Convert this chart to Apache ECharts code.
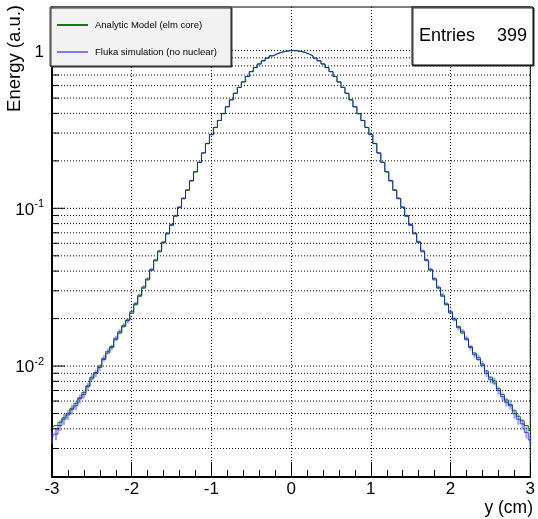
<!DOCTYPE html>
<html>
<head>
<meta charset="utf-8">
<script src="https://cdn.jsdelivr.net/npm/echarts@6/dist/echarts.min.js"></script>
<style>
html,body{margin:0;padding:0;background:#fff;}
#main{width:538px;height:519px;}
</style>
</head>
<body>
<div id="main"></div>
<script>
// bin centres along y (cm)
var yPos = [-3.00,-2.95,-2.90,-2.85,-2.80,-2.75,-2.70,-2.65,-2.60,-2.55,-2.50,-2.45,-2.40,-2.35,-2.30,-2.25,-2.20,-2.15,-2.10,-2.05,
            -2.00,-1.95,-1.90,-1.85,-1.80,-1.75,-1.70,-1.65,-1.60,-1.55,-1.50,-1.45,-1.40,-1.35,-1.30,-1.25,-1.20,-1.15,-1.10,-1.05,
            -1.00,-0.95,-0.90,-0.85,-0.80,-0.75,-0.70,-0.65,-0.60,-0.55,-0.50,-0.45,-0.40,-0.35,-0.30,-0.25,-0.20,-0.15,-0.10,-0.05,
            0.00,
            0.05,0.10,0.15,0.20,0.25,0.30,0.35,0.40,0.45,0.50,0.55,0.60,0.65,0.70,0.75,0.80,0.85,0.90,0.95,1.00,
            1.05,1.10,1.15,1.20,1.25,1.30,1.35,1.40,1.45,1.50,1.55,1.60,1.65,1.70,1.75,1.80,1.85,1.90,1.95,2.00,
            2.05,2.10,2.15,2.20,2.25,2.30,2.35,2.40,2.45,2.50,2.55,2.60,2.65,2.70,2.75,2.80,2.85,2.90,2.95,3.00];

// analytic model (elm core)
var analytic = [0.0040,0.0042,0.0044,0.0047,0.0050,0.0054,0.0058,0.0063,0.0068,0.0075,0.0083,0.0091,0.0100,0.0110,0.0121,0.0133,0.0147,0.0162,0.0178,0.0196,
                0.0216,0.0245,0.0277,0.0312,0.0352,0.0405,0.0465,0.0530,0.0605,0.0688,0.078,0.089,0.101,0.115,0.130,0.149,0.170,0.195,0.224,0.257,
                0.293,0.325,0.360,0.398,0.440,0.487,0.536,0.584,0.632,0.685,0.735,0.780,0.822,0.861,0.896,0.926,0.952,0.973,0.988,0.997,
                1.0,
                0.997,0.988,0.973,0.952,0.926,0.896,0.861,0.822,0.780,0.735,0.685,0.632,0.584,0.536,0.487,0.440,0.398,0.360,0.325,0.293,
                0.257,0.224,0.195,0.170,0.149,0.130,0.115,0.101,0.089,0.078,0.0688,0.0605,0.0530,0.0465,0.0405,0.0352,0.0312,0.0277,0.0245,0.0217,
                0.0196,0.0178,0.0162,0.0147,0.0133,0.0121,0.0110,0.0101,0.0093,0.0085,0.0078,0.0072,0.0066,0.0061,0.0056,0.0052,0.0048,0.0045,0.0042,0.0039];

// fluka simulation (no nuclear)
var fluka = [0.0035,0.0037,0.0042,0.0046,0.0049,0.0053,0.0056,0.0062,0.0066,0.0074,0.0085,0.0090,0.0098,0.0112,0.0124,0.0131,0.0150,0.0165,0.0181,0.0194,
             0.0221,0.0249,0.0281,0.0317,0.0357,0.0410,0.0471,0.0537,0.0612,0.0695,0.0788,0.0898,0.102,0.116,0.131,0.150,0.171,0.196,0.225,0.258,
             0.294,0.326,0.361,0.399,0.441,0.488,0.537,0.585,0.633,0.686,0.736,0.781,0.823,0.862,0.897,0.927,0.953,0.974,0.989,0.998,
             1.0,
             0.998,0.989,0.974,0.953,0.927,0.897,0.862,0.823,0.781,0.736,0.686,0.633,0.585,0.537,0.488,0.441,0.399,0.361,0.326,0.294,
             0.258,0.225,0.196,0.171,0.150,0.131,0.116,0.102,0.0900,0.0790,0.0697,0.0614,0.0538,0.0472,0.0411,0.0358,0.0316,0.0282,0.0248,0.0221,
             0.0199,0.0175,0.0166,0.0150,0.0131,0.0118,0.0113,0.0103,0.0090,0.0082,0.0080,0.0070,0.0064,0.0059,0.0057,0.0050,0.0046,0.0043,0.0038,0.0034];

// relative error of fluka bins, by |y| step of 0.1
var flukaRelErr = [0.005,0.005,0.005,0.005,0.006,0.006,0.007,0.007,0.008,0.009,0.010,0.011,0.012,0.013,0.015,0.017,
                   0.019,0.021,0.024,0.027,0.030,0.034,0.038,0.042,0.047,0.052,0.058,0.064,0.071,0.078,0.085];

var yGridValues = [0.003,0.004,0.005,0.006,0.007,0.008,0.009,
                   0.01,0.02,0.03,0.04,0.05,0.06,0.07,0.08,0.09,
                   0.1,0.2,0.3,0.4,0.5,0.6,0.7,0.8,0.9,1];
var yMin = 0.00198, yMax = 1.89;
var entries = 399;

var FONT = '"Liberation Sans", Arial, Helvetica, sans-serif';
var GREEN = '#0a7d0a';
var LIGHTBLUE = '#7b7bee';

var myChart = echarts.init(document.getElementById('main'));

function isDecade(v) {
    var e = Math.log10(v);
    return Math.abs(e - Math.round(e)) < 1e-6;
}

var analyticData = yPos.map(function (x, i) { return [x, analytic[i]]; });
var flukaData = yPos.map(function (x, i) { return [x, fluka[i]]; });
var errData = yPos.map(function (x, i) {
    var k = Math.round(Math.abs(x) * 10);
    return [x, fluka[i], fluka[i] * flukaRelErr[k]];
});

var option = {
    animation: false,
    backgroundColor: '#fff',
    grid: {left: 52, right: 5, top: 7, bottom: 42, show: true, borderColor: '#000', borderWidth: 1},
    legend: {
        left: 50, top: 7, orient: 'vertical', z: 10,
        icon: 'rect', itemWidth: 31, itemHeight: 2, itemGap: 17,
        padding: [13, 14, 9, 7],
        backgroundColor: '#f2f2f2', borderColor: '#333', borderWidth: 1,
        shadowColor: '#333', shadowOffsetX: 1, shadowOffsetY: 1, shadowBlur: 0,
        textStyle: {fontSize: 9.5, color: '#000', fontFamily: FONT, padding: [0, 0, 0, 2]},
        data: [
            {name: 'Analytic Model (elm core)', itemStyle: {color: GREEN}, lineStyle: {color: GREEN}},
            {name: 'Fluka simulation (no nuclear)', itemStyle: {color: LIGHTBLUE}, lineStyle: {color: LIGHTBLUE}}
        ]
    },
    xAxis: {
        type: 'value', min: -3, max: 3, interval: 1,
        axisLine: {show: true, onZero: false, lineStyle: {color: '#000', width: 2}},
        axisTick: {show: true, inside: true, length: 15, lineStyle: {color: '#000', width: 1}},
        minorTick: {show: true, splitNumber: 5, length: 7, lineStyle: {color: '#000', width: 1}},
        splitLine: {show: true, lineStyle: {color: '#000', width: 1, type: [1, 2]}},
        axisLabel: {color: '#000', fontSize: 17, fontFamily: FONT, margin: 4}
    },
    yAxis: {
        type: 'log', logBase: 10, min: yMin, max: yMax,
        axisLine: {show: true, onZero: false, lineStyle: {color: '#000', width: 2}},
        axisTick: {show: false},
        splitLine: {show: false},
        axisLabel: {
            margin: 8, color: '#000', fontFamily: FONT,
            showMinLabel: false, showMaxLabel: false,
            formatter: function (v) {
                if (!isDecade(v)) return '';
                var e = Math.round(Math.log10(v));
                if (e === 0) return '{b|1}';
                return '{b|10}{s|' + e + '}';
            },
            rich: {
                b: {fontSize: 17, fontFamily: FONT, color: '#000', lineHeight: 20, verticalAlign: 'bottom'},
                s: {fontSize: 11, fontFamily: FONT, color: '#000', lineHeight: 12, verticalAlign: 'top'}
            }
        }
    },
    graphic: [
        {type: 'text', x: 15, y: 5, rotation: Math.PI / 2, z: 10,
         style: {text: 'Energy (a.u.)', fill: '#000', font: '18.5px ' + FONT, align: 'right', verticalAlign: 'middle'}},
        {type: 'text', x: 533, y: 508, z: 10,
         style: {text: 'y (cm)', fill: '#000', font: '17.5px ' + FONT, align: 'right', verticalAlign: 'middle'}},
        {type: 'rect', shape: {x: 412, y: 7, width: 121, height: 58}, z: 10,
         style: {fill: '#fff', stroke: '#000', lineWidth: 1, shadowColor: '#333', shadowOffsetX: 1, shadowOffsetY: 1, shadowBlur: 0}},
        {type: 'text', x: 419, y: 36, z: 11,
         style: {text: 'Entries', fill: '#000', font: '18px ' + FONT, align: 'left', verticalAlign: 'middle'}},
        {type: 'text', x: 527, y: 36, z: 11,
         style: {text: String(entries), fill: '#000', font: '18px ' + FONT, align: 'right', verticalAlign: 'middle'}}
    ],
    series: [
        {
            // horizontal grid lines
            type: 'custom', silent: true, z: 0,
            data: yGridValues.map(function (v) { return [0, v]; }),
            encode: {x: 0, y: 1},
            renderItem: function (params, api) {
                var v = api.value(1);
                var p1 = api.coord([-3, v]), p2 = api.coord([3, v]);
                return {type: 'line', shape: {x1: p1[0], y1: p1[1], x2: p2[0], y2: p2[1]},
                        style: {stroke: '#000', lineWidth: 1, lineDash: [1, 2]}};
            }
        },
        {
            // y axis ticks
            type: 'custom', silent: true, z: 5,
            data: yGridValues.map(function (v) { return [0, v]; }),
            encode: {x: 0, y: 1},
            renderItem: function (params, api) {
                var v = api.value(1);
                var p = api.coord([-3, v]);
                var len = isDecade(v) ? 13 : 7;
                return {type: 'line', shape: {x1: p[0], y1: p[1], x2: p[0] + len, y2: p[1]},
                        style: {stroke: '#000', lineWidth: 1}};
            }
        },
        {
            name: 'Analytic Model (elm core)',
            type: 'line', step: 'middle', showSymbol: false, z: 2,
            data: analyticData,
            itemStyle: {color: GREEN},
            lineStyle: {color: GREEN, width: 1}
        },
        {
            // error bars of fluka
            type: 'custom', silent: true, z: 3,
            data: errData,
            encode: {x: 0, y: 1},
            renderItem: function (params, api) {
                var x = api.value(0), v = api.value(1), e = api.value(2);
                var p1 = api.coord([x, v - e]), p2 = api.coord([x, v + e]);
                return {type: 'line', shape: {x1: p1[0], y1: p1[1], x2: p2[0], y2: p2[1]},
                        style: {stroke: 'rgba(70,70,230,0.5)', lineWidth: 2}};
            }
        },
        {
            name: 'Fluka simulation (no nuclear)',
            type: 'line', step: 'middle', showSymbol: false, z: 4,
            data: flukaData,
            itemStyle: {color: LIGHTBLUE},
            lineStyle: {color: 'rgba(20,20,170,0.75)', width: 1}
        }
    ]
};
myChart.setOption(option);
window.addEventListener('resize', function () {
    myChart.resize();
});
</script>
</body>
</html>
